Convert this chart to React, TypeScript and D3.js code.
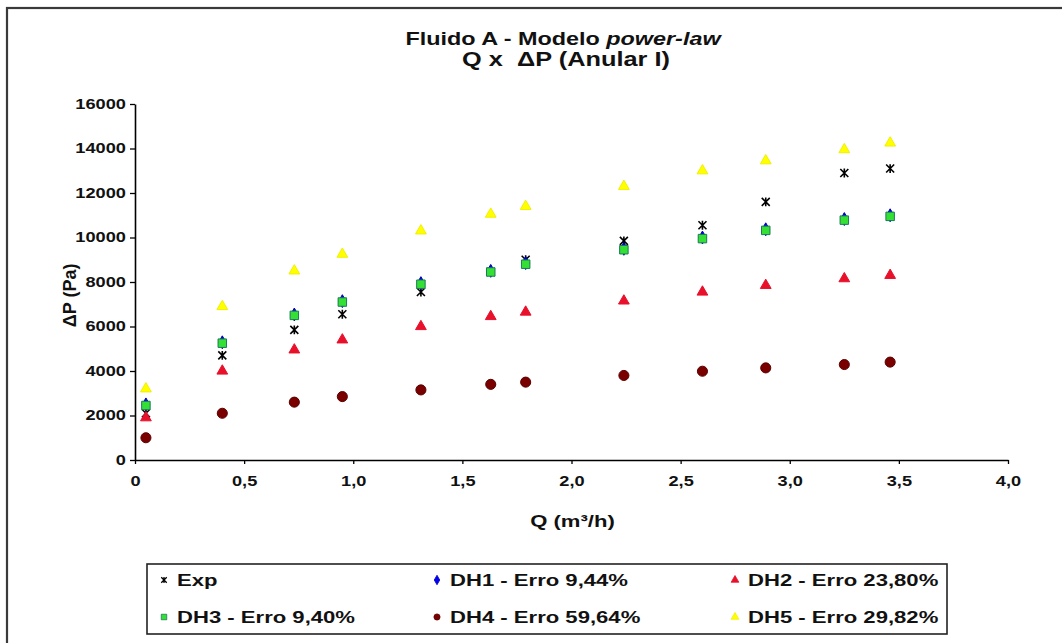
import * as React from 'react';
import { useEffect, useRef } from 'react';
import { select, scaleLinear, axisLeft, axisBottom, symbol, symbolTriangle, symbolCircle, symbolSquare, symbolDiamond } from 'd3';

// vazão (m³/h) e queda de pressão (Pa)
const vazao = [0.05, 0.4, 0.73, 0.95, 1.31, 1.63, 1.79, 2.24, 2.6, 2.89, 3.25, 3.46];
const exp = [2100, 4700, 5850, 6550, 7550, 8450, 9000, 9850, 10550, 11600, 12900, 13100];
const dh1 = [2500, 5290, 6540, 7140, 7950, 8500, 8850, 9490, 10000, 10370, 10830, 11000];
const dh2 = [1900, 4000, 4950, 5400, 6000, 6450, 6650, 7150, 7550, 7850, 8150, 8300];
const dh3 = [2450, 5250, 6500, 7100, 7900, 8450, 8800, 9450, 9950, 10320, 10780, 10950];
const dh4 = [1000, 2100, 2600, 2850, 3150, 3400, 3500, 3800, 3990, 4140, 4290, 4400];
const dh5 = [3200, 6900, 8500, 9250, 10300, 11050, 11400, 12300, 13000, 13450, 13950, 14250];

const xTicks = [0, 0.5, 1, 1.5, 2, 2.5, 3, 3.5, 4];
const yTicks = [0, 2000, 4000, 6000, 8000, 10000, 12000, 14000, 16000];

const legendLabels = ['Exp', 'DH1 - Erro 9,44%', 'DH2 - Erro 23,80%', 'DH3 - Erro 9,40%', 'DH4 - Erro 59,64%', 'DH5 - Erro 29,82%'];

const FONT = "'Liberation Sans', Arial, sans-serif";
const SX = 1.3; // the original image is stretched sideways

// Excel-like star marker: an x with a vertical bar
const symbolStar = {
    draw(context: any, size: number) {
        const r = Math.sqrt(size) / 2;
        context.moveTo(-r, -r);
        context.lineTo(r, r);
        context.moveTo(r, -r);
        context.lineTo(-r, r);
        context.moveTo(0, -r * 1.1);
        context.lineTo(0, r * 1.1);
    },
};

interface ISeries {
    name: string;
    values: number[];
    type: any;
    size: number;
    legendSize: number;
    fill: string;
    stroke: string;
}

const series: ISeries[] = [
    { name: legendLabels[0], values: exp, type: symbolStar, size: 64, legendSize: 30, fill: 'none', stroke: '#000' },
    { name: legendLabels[1], values: dh1, type: symbolDiamond, size: 48, legendSize: 26, fill: '#0000ff', stroke: '#0000aa' },
    { name: legendLabels[2], values: dh2, type: symbolTriangle, size: 50, legendSize: 26, fill: '#e8102a', stroke: '#e8102a' },
    { name: legendLabels[3], values: dh3, type: symbolSquare, size: 72, legendSize: 30, fill: '#33e033', stroke: '#1a7a5a' },
    { name: legendLabels[4], values: dh4, type: symbolCircle, size: 80, legendSize: 30, fill: '#7a0000', stroke: '#5a0000' },
    { name: legendLabels[5], values: dh5, type: symbolTriangle, size: 50, legendSize: 26, fill: '#ffff00', stroke: '#f0f000' },
];

const margin = { top: 104, right: 54, bottom: 183, left: 135 };
const W = 1062;
const H = 643;

export default function App() {
    const ref = useRef<SVGSVGElement>(null);

    useEffect(() => {
        const svg = select(ref.current);
        svg.selectAll('*').remove();
        const width = W - margin.left - margin.right;
        const height = H - margin.top - margin.bottom;

        const x = scaleLinear().domain([0, 4]).range([0, width]);
        const y = scaleLinear().domain([0, 16000]).range([height, 0]);

        // outer frame (cut off on the right and bottom)
        svg.append('rect')
            .attr('x', 7).attr('y', 8).attr('width', 1100).attr('height', 700)
            .attr('fill', '#fff').attr('stroke', '#3a3a3a').attr('stroke-width', 2.2);

        const title = svg.append('text')
            .attr('transform', `translate(563, 45) scale(${SX},1)`)
            .attr('text-anchor', 'middle')
            .attr('font-family', FONT).attr('font-size', 18).attr('font-weight', 'bold').attr('fill', '#111');
        title.append('tspan').text('Fluido A - Modelo ');
        title.append('tspan').attr('font-style', 'italic').text('power-law');

        svg.append('text')
            .attr('transform', `translate(566, 66) scale(${SX},1)`)
            .attr('text-anchor', 'middle')
            .attr('font-family', FONT).attr('font-size', 19.5).attr('font-weight', 'bold').attr('fill', '#111')
            .attr('xml:space', 'preserve')
            .text('Q x  \u0394P (Anular I)');

        const g = svg.append('g').attr('transform', `translate(${margin.left}, ${margin.top})`);

        const yAx = g.append('g')
            .call(axisLeft(y).tickValues(yTicks).tickSize(5).tickSizeOuter(0).tickPadding(6).tickFormat((d: any) => String(d)));
        const xAx = g.append('g')
            .attr('transform', `translate(0, ${height})`)
            .call(axisBottom(x).tickValues(xTicks).tickSize(4).tickSizeOuter(0).tickPadding(12)
                .tickFormat((d: any) => (d === 0 ? '0' : (d as number).toFixed(1).replace('.', ','))));

        [xAx, yAx].forEach((ax) => {
            ax.select('.domain').attr('stroke', '#000').attr('stroke-width', 1.6);
            ax.selectAll('.tick line').attr('stroke', '#000').attr('stroke-width', 1.3);
            ax.selectAll('.tick text')
                .attr('font-family', FONT).attr('font-size', 14).attr('font-weight', 'bold').attr('fill', '#111');
        });
        yAx.selectAll('.tick text').attr('transform', `scale(${SX},1)`).attr('x', -7);
        xAx.selectAll('.tick text').attr('transform', `scale(${SX},1)`);

        g.append('text')
            .attr('transform', `translate(${x(2) + 1}, 423) scale(${SX},1)`)
            .attr('text-anchor', 'middle')
            .attr('font-family', FONT).attr('font-size', 17).attr('font-weight', 'bold').attr('fill', '#111')
            .text('Q (m\u00b3/h)');

        svg.append('text')
            .attr('transform', `translate(76, ${margin.top + y(7400)}) rotate(-90)`)
            .attr('text-anchor', 'middle')
            .attr('font-family', FONT).attr('font-size', 18).attr('font-weight', 'bold').attr('fill', '#111')
            .text('\u0394P (Pa)');

        // points
        series.forEach((s) => {
            const sym = symbol().type(s.type).size(s.size);
            g.append('g').selectAll('path')
                .data(s.values)
                .join('path')
                .attr('transform', (d: number, i: number) => `translate(${x(vazao[i])}, ${y(d)})`)
                .attr('d', sym as any)
                .attr('fill', s.fill)
                .attr('stroke', s.stroke)
                .attr('stroke-width', s.fill === 'none' ? 1.6 : 1);
        });

        // legend
        const lg = svg.append('g');
        lg.append('rect')
            .attr('x', 147).attr('y', 564).attr('width', 800).attr('height', 70)
            .attr('fill', '#fff').attr('stroke', '#222').attr('stroke-width', 1.6);
        const colX = [164, 437, 735];
        const rowY = [580, 617];
        series.forEach((s, i) => {
            const cx = colX[i % 3];
            const cy = rowY[Math.floor(i / 3)];
            lg.append('path')
                .attr('transform', `translate(${cx}, ${cy})`)
                .attr('d', symbol().type(s.type).size(s.legendSize) as any)
                .attr('fill', s.fill)
                .attr('stroke', s.stroke)
                .attr('stroke-width', s.fill === 'none' ? 1.3 : 0.8);
            lg.append('text')
                .attr('transform', `translate(${cx + 13}, ${cy + 6}) scale(${SX},1)`)
                .attr('font-family', FONT).attr('font-size', 17).attr('font-weight', 'bold').attr('fill', '#111')
                .text(s.name);
        });
    }, []);

    return (
        <svg ref={ref} width={W} height={H} style={{ position: 'absolute', left: 0, top: 0, background: '#fff' }} />
    );
}
